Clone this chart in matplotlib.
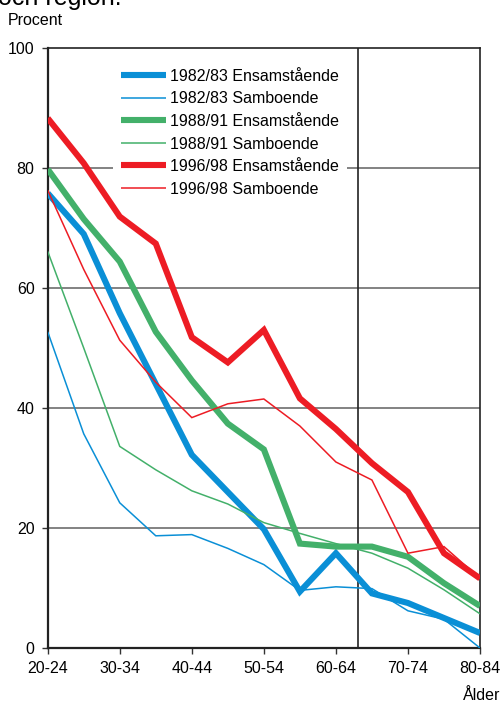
import matplotlib
matplotlib.use("Agg")
import matplotlib.pyplot as plt

plt.rcParams['font.family'] = ['Liberation Sans', 'DejaVu Sans']

ages = ["20-24", "25-29", "30-34", "35-39", "40-44", "45-49", "50-54",
        "55-59", "60-64", "65-69", "70-74", "75-79", "80-84"]

ens_8283 = [75.8, 69.0, 55.8, 44.0, 32.2, 26.0, 19.8, 9.4, 15.8, 9.1, 7.5, 5.0, 2.5]
sam_8283 = [52.7, 35.7, 24.2, 18.7, 18.9, 16.6, 13.9, 9.6, 10.2, 9.9, 6.2, 4.8, 0.0]
ens_8891 = [79.8, 71.5, 64.4, 52.7, 44.6, 37.4, 33.1, 17.4, 16.9, 16.9, 15.2, 10.8, 7.0]
sam_8891 = [66.1, 50.0, 33.6, 29.7, 26.2, 24.0, 20.9, 19.1, 17.4, 15.8, 13.3, 9.7, 5.7]
ens_9698 = [88.3, 80.8, 71.9, 67.4, 51.8, 47.6, 53.0, 41.6, 36.5, 30.8, 26.0, 15.8, 11.6]
sam_9698 = [76.3, 63.1, 51.3, 44.3, 38.4, 40.7, 41.5, 37.0, 31.0, 28.0, 15.8, 16.9, 11.6]

series = [
    ("1982/83 Ensamstående", ens_8283, "#0a8fd6", 4.4),
    ("1982/83 Samboende", sam_8283, "#0a8fd6", 1.1),
    ("1988/91 Ensamstående", ens_8891, "#43b06a", 4.4),
    ("1988/91 Samboende", sam_8891, "#43b06a", 1.1),
    ("1996/98 Ensamstående", ens_9698, "#ed1c24", 4.4),
    ("1996/98 Samboende", sam_9698, "#ed1c24", 1.1),
]

yticks = [0, 20, 40, 60, 80, 100]
marker_pos = 8.6  # vertical reference line between 60-64 and 65-69

W, H = 504, 706
fig = plt.figure(figsize=(W / 100, H / 100), dpi=100)
ax = fig.add_axes([47.7 / W, 1 - 648 / H, 432.3 / W, 600 / H])

x = list(range(len(ages)))
handles = []
for label, vals, color, lw in series:
    h, = ax.plot(x, vals, color=color, lw=lw, label=label,
                 solid_capstyle='butt', solid_joinstyle='miter', zorder=3)
    handles.append(h)

ax.set_xlim(0, len(ages) - 1)
ax.set_ylim(0, 100)

for yv in yticks[1:-1]:
    ax.axhline(yv, color='#606060', lw=1.1, zorder=1)
ax.axvline(marker_pos, color='#222222', lw=1.2, zorder=2)

ax.set_yticks(yticks)
ax.set_yticklabels([str(v) for v in yticks], fontsize=11.5)
ax.set_xticks(x[::2])
ax.set_xticklabels(ages[::2], fontsize=11.5)
ax.tick_params(axis='both', direction='out', length=4.5, width=1.0, color='#333333')
ax.tick_params(axis='y', pad=5)
ax.tick_params(axis='x', pad=5)

for side in ['left', 'bottom']:
    ax.spines[side].set_linewidth(1.6)
    ax.spines[side].set_color('#222222')
for side in ['top', 'right']:
    ax.spines[side].set_linewidth(1.2)
    ax.spines[side].set_color('#222222')

leg = ax.legend(handles=handles, loc='upper left',
                bbox_to_anchor=((113 - 47.7) / 432.3, 1 - (61 - 48) / 600),
                fontsize=11.5, frameon=True, fancybox=False,
                edgecolor='none', facecolor='white', framealpha=1,
                borderpad=0.5, handlelength=2.8, handletextpad=0.25,
                labelspacing=0.47, borderaxespad=0)
leg.set_zorder(2.5)

fig.text(8 / W, 1 - 25 / H, "Procent", fontsize=11.5, ha='left', va='baseline')
fig.text(500 / W, 1 - 700 / H, "Ålder", fontsize=11.5, ha='right', va='baseline')
fig.text(-2 / W, 1 - 5 / H, "och region.", fontsize=18, ha='left', va='baseline')

fig.savefig("out.png", dpi=100)
